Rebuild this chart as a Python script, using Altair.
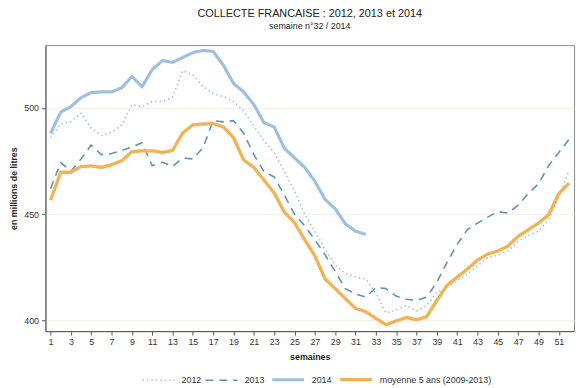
import altair as alt
import pandas as pd

weeks = list(range(1, 53))
series = ["2012", "2013", "2014", "moyenne 5 ans (2009-2013)"]

v2012 = [486, 492.5, 493.5, 497.5, 490.5, 487, 488.5, 492, 501.5, 500.5,
         503, 503, 505, 517.5, 515.5, 510, 506.8, 505.2, 503, 498.5,
         491.5, 484.5, 479, 470, 461, 450, 442, 433.5, 426, 422,
         420.5, 419.5, 413, 403.5, 405, 407, 404.5, 407, 413.4, 415.5,
         418.8, 421.9, 425.7, 429.6, 430.7, 432.7, 437.3, 440, 442, 447.4,
         458, 470.5]
v2013 = [462, 474.4, 470.2, 476, 482.5, 478, 478.5, 480, 481.6, 483.6,
         472.8, 474.4, 472.5, 476.4, 476, 481.3, 494, 493.4, 494, 488,
         478, 470, 467.5, 459, 450, 444.5, 438, 431, 423, 415,
         412.5, 411, 415.5, 415, 411.5, 410, 409.5, 411, 418, 427.3,
         435.8, 442.7, 445.8, 448.6, 451.2, 450.5, 454.3, 459.7, 464.3, 472.8,
         479, 485.2]
v2014 = [488, 498, 500.6, 504.8, 507.2, 507.5, 507.5, 509.4, 514.8, 509.9,
         518, 522.2, 521.4, 523.7, 526, 527, 526.6, 520, 511.5, 507.5,
         501.5, 493, 491, 481, 476.5, 472, 465.5, 457, 452.5, 445.5,
         442, 440.5]
vmoy = [456.6, 469.7, 469.7, 472.4, 472.7, 472, 473.3, 475.1, 479.4, 479.8,
        479.8, 479, 480, 488.2, 492, 492.4, 492.6, 491, 486, 475.5,
        472, 466, 460, 451, 446, 438, 430.4, 419.6, 415, 410.3,
        405.7, 404.2, 401, 398, 399.8, 401.4, 400.3, 401.8, 409.5, 416.5,
        420.4, 424.2, 428.4, 431.2, 432.7, 435, 439.6, 442.7, 445.8, 449.7,
        459.7, 464.6]

colors = ["#a6c0d4", "#5e94ad", "#9fbfe0", "#efb457"]
dashes = [[1.5, 3], [8, 6], [1, 0], [1, 0]]
widths = [1.6, 1.6, 3.2, 3.4]

rows = []
for name, vals in zip(series, [v2012, v2013, v2014, vmoy]):
    for w, v in zip(weeks, vals):
        rows.append({"semaine": w, "valeur": v, "serie": name})
df = pd.DataFrame(rows)

font = "Liberation Sans"

chart = alt.Chart(df).mark_line(strokeJoin="round").encode(
    x=alt.X("semaine:Q",
            scale=alt.Scale(domain=[0.5, 52.5], nice=False, zero=False),
            axis=alt.Axis(values=list(range(1, 52, 2)), title="semaines",
                          grid=False, tickSize=4, labelFontSize=9,
                          labelPadding=3, titlePadding=6)),
    y=alt.Y("valeur:Q",
            scale=alt.Scale(domain=[395, 529.5], nice=False, zero=False),
            axis=alt.Axis(values=[400, 450, 500], title="en millions de litres",
                          grid=True, gridColor="#f3eedf", tickSize=4,
                          labelFontSize=9, labelPadding=3, titlePadding=5)),
    color=alt.Color("serie:N", scale=alt.Scale(domain=series, range=colors),
                    legend=alt.Legend(title=None)),
    strokeDash=alt.StrokeDash("serie:N", scale=alt.Scale(domain=series, range=dashes),
                              legend=alt.Legend(title=None)),
    strokeWidth=alt.StrokeWidth("serie:N",
                                scale=alt.Scale(type="ordinal", domain=series, range=widths),
                                legend=alt.Legend(title=None)),
).properties(
    width=536,
    height=290,
    padding={"left": 38, "top": 35, "right": 5, "bottom": 55},
    autosize=alt.AutoSizeParams(type="none"),
    title=alt.TitleParams(
        text="COLLECTE FRANCAISE : 2012, 2013 et 2014",
        subtitle="semaine n°32 / 2014",
        anchor="middle", fontSize=11, fontWeight="normal", color="#222",
        subtitleFontSize=9, subtitleColor="#222", subtitlePadding=4,
        offset=14, font=font, subtitleFont=font),
).configure_view(
    stroke="#8a8a8a", strokeWidth=1
).configure_axis(
    domainColor="#555", tickColor="#555", labelColor="#333",
    titleFontSize=9, titleFontWeight="bold", titleColor="#222",
    labelFont=font, titleFont=font
).configure_legend(
    orient="none", legendX=97, legendY=321, direction="horizontal",
    symbolType="stroke", symbolSize=1050, labelFontSize=9, labelColor="#333",
    labelFont=font, columnPadding=0, labelOffset=6, labelLimit=300
)

chart.save("out.html", embed_options={"renderer": "svg", "actions": False})
